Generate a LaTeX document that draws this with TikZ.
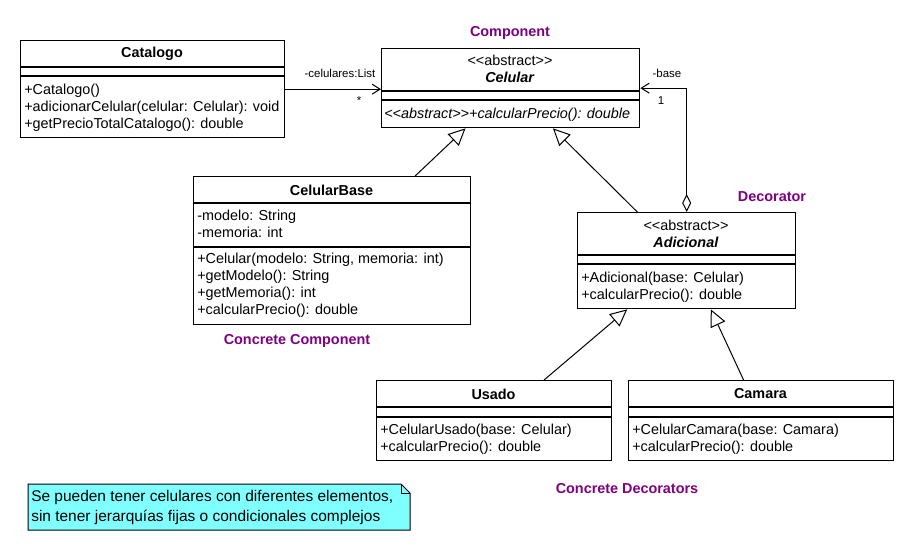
\documentclass[tikz,border=0pt]{standalone}
\usepackage{fontspec}
\setmainfont{Liberation Sans}[Ligatures=TeXOff]
\usetikzlibrary{calc,positioning,arrows.meta,backgrounds}

\definecolor{rolepurple}{RGB}{128,0,128}
\definecolor{notecyan}{RGB}{128,255,255}

\tikzset{
  umlbox/.style 2 args={draw, line width=1pt, inner sep=0pt, anchor=north west,
    minimum width=#1*0.75pt, minimum height=#2*0.75pt},
  sep/.style={line width=1pt},
  classname/.style={font=\fontsize{10.8}{12.75}\selectfont\bfseries, inner sep=0pt, align=center},
  members/.style={font=\fontsize{10.8}{12.75}\selectfont, inner sep=0pt, align=left, anchor=base west},
  role/.style={font=\fontsize{10.8}{13}\selectfont\bfseries, text=rolepurple, inner sep=0pt},
  endlabel/.style={font=\fontsize{8.6}{10}\selectfont, inner sep=0pt},
  notetext/.style={font=\fontsize{11.6}{14.6}\selectfont, inner sep=0pt, align=left, anchor=west},
  inherit/.style={line width=0.75pt, -{Triangle[open, length=12.75pt, width=12pt]}},
  assoc/.style={line width=0.75pt, -{Straight Barb[length=6pt, width=7.5pt]}},
  aggreg/.style={line width=0.75pt, {Diamond[open, length=13.5pt, width=6.75pt]}-{Straight Barb[length=6pt, width=7.5pt]}}
}

\begin{document}
\begin{tikzpicture}[x=0.75pt, y=-0.75pt]
  \useasboundingbox (0,0) rectangle (914,551);

  % members nodes sit on the baseline of their last line
  \node [umlbox={264}{97}] (catalogo) at (20,40) {};
  \draw [sep] (catalogo.west |- 0,67) -- (catalogo.east |- 0,67) (catalogo.west |- 0,76) -- (catalogo.east |- 0,76);
  \node [classname] (catalogoName) at (152,54) {Catalogo};
  \node [members] (catalogoOps) at (24,128) {+Catalogo()\\+adicionarCelular(celular: Celular): void\\+getPrecioTotalCatalogo(): double};

  \node [umlbox={258}{79}] (celular) at (381,48) {};
  \draw [sep] (celular.west |- 0,91) -- (celular.east |- 0,91) (celular.west |- 0,100) -- (celular.east |- 0,100);
  \node [classname] (celularName) at (510,69) {{\mdseries <<abstract>>}\\\textit{Celular}};
  \node [members] (celularOps) at (384,118) {\itshape <<abstract>>+calcularPrecio(): double};

  \node [umlbox={277}{148}] (celularBase) at (193,176) {};
  \draw [sep] (celularBase.west |- 0,203) -- (celularBase.east |- 0,203) (celularBase.west |- 0,247) -- (celularBase.east |- 0,247);
  \node [classname] (celularBaseName) at (331.5,190) {CelularBase};
  \node [members] (celularBaseAttrs) at (197,237) {-modelo: String\\-memoria: int};
  \node [members] (celularBaseOps) at (197,314) {+Celular(modelo: String, memoria: int)\\+getModelo(): String\\+getMemoria(): int\\+calcularPrecio(): double};

  \node [umlbox={218}{96}] (adicional) at (577,212) {};
  \draw [sep] (adicional.west |- 0,255) -- (adicional.east |- 0,255) (adicional.west |- 0,264) -- (adicional.east |- 0,264);
  \node [classname] (adicionalName) at (686,233.5) {{\mdseries <<abstract>>}\\\textit{Adicional}};
  \node [members] (adicionalOps) at (581,299) {+Adicional(base: Celular)\\+calcularPrecio(): double};

  \node [umlbox={235}{80}] (usado) at (376,380) {};
  \draw [sep] (usado.west |- 0,407) -- (usado.east |- 0,407) (usado.west |- 0,417) -- (usado.east |- 0,417);
  \node [classname] (usadoName) at (493.5,394) {Usado};
  \node [members] (usadoOps) at (380,451) {+CelularUsado(base: Celular)\\+calcularPrecio(): double};

  \node [umlbox={265}{80}] (camara) at (628,380) {};
  \draw [sep] (camara.west |- 0,407) -- (camara.east |- 0,407) (camara.west |- 0,417) -- (camara.east |- 0,417);
  \node [classname] (camaraName) at (760.5,394) {Camara};
  \node [members] (camaraOps) at (632,451) {+CelularCamara(base: Camara)\\+calcularPrecio(): double};

  \node [role] (componentRole) at (510,33) {Component};
  \node [role] (decoratorRole) at (772,197) {Decorator};
  \node [role] (concreteComponentRole) at (297,341) {Concrete Component};
  \node [role] (concreteDecoratorsRole) at (627,489) {Concrete Decorators};

  \draw [assoc] (catalogo.east) -- (catalogo.east -| celular.west);
  \node [endlabel] (celularesName) at (340,73) {-celulares:List};
  \node [endlabel] (celularesMult) at (359,101) {*};

  \draw [aggreg] (adicional.north) |- (celular.east);
  \node [endlabel] (baseName) at (667,73) {-base};
  \node [endlabel] (baseMult) at (661,101) {1};

  \draw [inherit] ($(celularBase.north west)!0.798!(celularBase.north east)$) -- ($(celular.south west)!0.326!(celular.south east)$);
  \draw [inherit] ($(adicional.north west)!0.275!(adicional.north east)$) -- ($(celular.south west)!0.663!(celular.south east)$);
  \draw [inherit] ($(usado.north west)!0.711!(usado.north east)$) -- ($(adicional.south west)!0.229!(adicional.south east)$);
  \draw [inherit] ($(camara.north west)!0.434!(camara.north east)$) -- ($(adicional.south west)!0.61!(adicional.south east)$);

  \node [notetext] (note) at (31,507.5) {Se pueden tener celulares con diferentes elementos,\\sin tener jerarquías fijas o condicionales complejos};
  \begin{scope}[on background layer]
    \fill [white] (0,0) rectangle (914,551);
    \draw [line width=0.75pt, fill=notecyan] (28,484) -- (401,484) -- (410,493) -- (410,530) -- (28,530) -- cycle;
    \draw [line width=0.75pt] (401,484) |- (410,493);
  \end{scope}
\end{tikzpicture}
\end{document}
